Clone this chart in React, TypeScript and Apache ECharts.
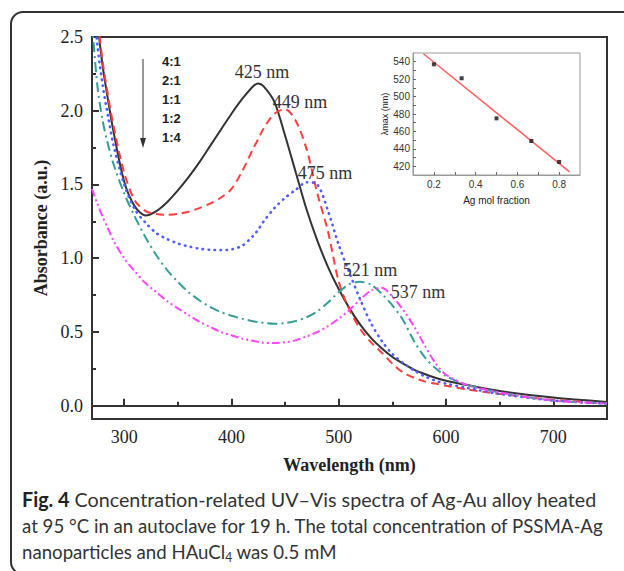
import React, { useEffect, useRef } from "react";
import * as echarts from "echarts";

// ---------- data ----------
const wavelengths = [270, 275, 280, 285, 290, 300, 310, 320, 330, 340, 350, 360, 370, 380, 390, 400, 410, 420, 425, 430, 440, 450, 460, 470, 480, 490, 500, 510, 520, 530, 540, 550, 560, 570, 580, 590, 600, 620, 650, 700, 750];
const abs4to1 = [3.2, 2.62, 2.3, 2.07, 1.86, 1.52, 1.35, 1.29, 1.32, 1.38, 1.46, 1.55, 1.65, 1.76, 1.87, 1.98, 2.08, 2.165, 2.185, 2.165, 2.06, 1.83, 1.58, 1.33, 1.12, 0.94, 0.79, 0.66, 0.55, 0.46, 0.39, 0.33, 0.285, 0.245, 0.215, 0.19, 0.17, 0.14, 0.1, 0.055, 0.025];
const abs2to1 = [3.3, 2.66, 2.33, 2.1, 1.9, 1.58, 1.39, 1.32, 1.3, 1.295, 1.3, 1.315, 1.34, 1.37, 1.41, 1.47, 1.59, 1.74, 1.81, 1.88, 1.98, 2.01, 1.93, 1.74, 1.44, 1.18, 0.84, 0.65, 0.52, 0.43, 0.36, 0.285, 0.225, 0.19, 0.165, 0.15, 0.135, 0.11, 0.08, 0.04, 0.015];
const abs1to1 = [2.9, 2.45, 2.17, 1.96, 1.77, 1.5, 1.33, 1.24, 1.17, 1.13, 1.1, 1.08, 1.065, 1.057, 1.055, 1.06, 1.085, 1.15, 1.195, 1.25, 1.34, 1.41, 1.465, 1.515, 1.5, 1.32, 1.09, 0.9, 0.72, 0.56, 0.44, 0.35, 0.29, 0.24, 0.2, 0.17, 0.15, 0.12, 0.08, 0.035, 0.015];
const abs1to2 = [2.6, 2.17, 1.93, 1.77, 1.64, 1.44, 1.28, 1.14, 1.02, 0.92, 0.84, 0.77, 0.715, 0.67, 0.635, 0.61, 0.59, 0.573, 0.567, 0.562, 0.556, 0.56, 0.575, 0.6, 0.64, 0.7, 0.77, 0.825, 0.84, 0.82, 0.76, 0.68, 0.58, 0.44, 0.33, 0.255, 0.2, 0.14, 0.09, 0.035, 0.015];
const abs1to4 = [1.47, 1.37, 1.28, 1.2, 1.12, 1.0, 0.91, 0.83, 0.77, 0.71, 0.66, 0.615, 0.57, 0.535, 0.5, 0.478, 0.455, 0.44, 0.433, 0.427, 0.425, 0.43, 0.445, 0.47, 0.5, 0.54, 0.59, 0.65, 0.72, 0.78, 0.8, 0.74, 0.65, 0.54, 0.41, 0.29, 0.21, 0.14, 0.09, 0.035, 0.015];

const ratioLabels = ["4:1", "2:1", "1:1", "1:2", "1:4"];
const peakLabels = ["425 nm", "449 nm", "475 nm", "521 nm", "537 nm"];

const xMajorTicks = [300, 400, 500, 600, 700];
const xMinorTicks = [350, 450, 550, 650];
const yMajorTicks = [0, 0.5, 1.0, 1.5, 2.0, 2.5];
const yMinorTicks = [0.25, 0.75, 1.25, 1.75, 2.25];

// inset
const agFraction = [0.2, 0.333, 0.5, 0.667, 0.8];
const lambdaMax = [537, 521, 475, 449, 425];
const insetXLabels = [0.2, 0.4, 0.6, 0.8];
const insetXTicks = [0.2, 0.3, 0.4, 0.5, 0.6, 0.7, 0.8];
const insetYLabels = [420, 440, 460, 480, 500, 520, 540];
const insetYTicks = [420, 430, 440, 450, 460, 470, 480, 490, 500, 510, 520, 530, 540];
const fitRange = [0.15, 0.85];

// caption: [bold part, regular part, subscript, tail]
const captionLines = [
  ["Fig. 4", " Concentration-related UV\u2013Vis spectra of Ag-Au alloy heated", "", ""],
  ["", "at 95 \u00b0C in an autoclave for 19 h. The total concentration of PSSMA-Ag", "", ""],
  ["", "nanoparticles and HAuCl", "4", " was 0.5 mM"],
];
const captionWidths = [576, 582, 0];

function linearFit(xs: number[], ys: number[]) {
  const n = xs.length;
  const mx = xs.reduce((a, b) => a + b, 0) / n;
  const my = ys.reduce((a, b) => a + b, 0) / n;
  let sxy = 0, sxx = 0;
  for (let i = 0; i < n; i++) {
    sxy += (xs[i] - mx) * (ys[i] - my);
    sxx += (xs[i] - mx) * (xs[i] - mx);
  }
  const slope = sxy / sxx;
  return (x: number) => my + slope * (x - mx);
}

const SERIF = "'Liberation Serif', 'Times New Roman', serif";
const SANS = "'Liberation Sans', Arial, sans-serif";
const CAPTION = "Lato, 'Open Sans', sans-serif";
const AX = "#333";
const CAP_SIZE = 20;
const SUB_SIZE = 13;

export default function App() {
  const ref = useRef<HTMLDivElement>(null);
  useEffect(() => {
    if (!ref.current) return;
    const chart = echarts.init(ref.current, null, { renderer: "svg" });
    const fit = linearFit(agFraction, lambdaMax);

    const ctx = document.createElement("canvas").getContext("2d")!;
    const measure = (t: string, font: string) => {
      if (!t) return 0;
      ctx.font = font;
      return ctx.measureText(t).width;
    };

    const mk = (name: string, arr: number[], color: string, type: any, width = 2, cap = "butt") => ({
      name,
      type: "line",
      xAxisIndex: 0,
      yAxisIndex: 0,
      data: wavelengths.map((w, i) => [w, arr[i]]),
      showSymbol: false,
      smooth: 0.3,
      clip: true,
      silent: true,
      lineStyle: { color, width, type, cap },
      z: 3,
    });

    const ratioTexts = ratioLabels.map((t, i) => ({
      type: "text",
      left: 162,
      top: 55 + i * 19,
      style: { text: t, font: `bold 13px ${SANS}`, fill: "#222" },
      z: 10,
    }));

    const peakPos = [
      [262, 72],
      [300, 102],
      [325, 173],
      [370, 270],
      [418, 292],
    ];
    const peakTexts = peakLabels.map((t, i) => ({
      type: "text",
      x: peakPos[i][0],
      y: peakPos[i][1],
      style: {
        text: t,
        font: `18px ${SERIF}`,
        fill: "#333",
        align: "center",
        verticalAlign: "middle",
      },
      z: 10,
    }));

    const regFont = `${CAP_SIZE}px ${CAPTION}`;
    const boldFont = `bold ${CAP_SIZE}px ${CAPTION}`;
    const scales = captionLines.map((l, i) => {
      const w = measure(l[0], boldFont) + measure(l[1], regFont) + measure(l[2], `${SUB_SIZE}px ${CAPTION}`) + measure(l[3], regFont);
      return captionWidths[i] > 0 && w > 0 ? Math.min(1.1, captionWidths[i] / w) : 0;
    });
    const fallback = scales[1] || 1;
    const captionTexts = captionLines.map((l, i) => {
      let text = "";
      if (l[0]) text += `{b|${l[0]}}`;
      text += l[1];
      if (l[2]) text += `{sub|${l[2]}}`;
      text += l[3];
      return {
        type: "text",
        x: 22,
        y: 499 + i * 26,
        scaleX: scales[i] || fallback,
        originX: 0,
        style: {
          text,
          font: regFont,
          fill: "#333",
          verticalAlign: "middle",
          rich: {
            b: { fontWeight: "bold", fontSize: CAP_SIZE, fontFamily: CAPTION, fill: "#222" },
            sub: { fontSize: SUB_SIZE, fontFamily: CAPTION, fill: "#333", padding: [12, 0, 0, 0] },
          },
        },
        z: 10,
      };
    });

    const option: any = {
      animation: false,
      backgroundColor: "#fff",
      grid: [
        { left: 92, top: 37, right: 17, bottom: 152, show: true, borderColor: AX, borderWidth: 2, backgroundColor: "transparent" },
        { left: 413, top: 53, width: 167, height: 122, show: true, borderColor: "#999", borderWidth: 1, backgroundColor: "#fff", z: 5 },
      ],
      xAxis: [
        {
          type: "value", gridIndex: 0, min: 270, max: 750, position: "bottom",
          name: "Wavelength (nm)", nameLocation: "middle", nameGap: 37,
          nameTextStyle: { fontFamily: SERIF, fontWeight: "bold", fontSize: 18, color: "#222" },
          axisLine: { lineStyle: { color: AX, width: 2 } },
          axisTick: { inside: true, length: 7, customValues: xMajorTicks, lineStyle: { color: AX, width: 2 } },
          axisLabel: { customValues: xMajorTicks, fontFamily: SERIF, fontSize: 18, color: "#222", margin: 9 },
          splitLine: { show: false },
        },
        {
          type: "value", gridIndex: 0, min: 270, max: 750, position: "bottom",
          axisLine: { show: false },
          axisTick: { inside: true, length: 4, customValues: xMinorTicks, lineStyle: { color: AX, width: 2 } },
          axisLabel: { show: false },
          splitLine: { show: false },
        },
        {
          type: "value", gridIndex: 1, min: 0.1, max: 0.9, position: "bottom",
          name: "Ag mol fraction", nameLocation: "middle", nameGap: 20,
          nameTextStyle: { fontFamily: SANS, fontSize: 10, color: "#222" },
          axisLine: { lineStyle: { color: "#999", width: 1 } },
          axisTick: { inside: true, length: 3, customValues: insetXTicks, lineStyle: { color: "#666" } },
          axisLabel: { customValues: insetXLabels, fontFamily: SANS, fontSize: 10, color: "#333", margin: 4, formatter: (v: number) => v.toFixed(1) },
          splitLine: { show: false },
          z: 6,
        },
      ],
      yAxis: [
        {
          type: "value", gridIndex: 0, min: -0.09, max: 2.5, position: "left",
          name: "Absorbance (a.u.)", nameLocation: "middle", nameGap: 38,
          nameTextStyle: { fontFamily: SERIF, fontWeight: "bold", fontSize: 18, color: "#222" },
          axisLine: { lineStyle: { color: AX, width: 2 } },
          axisTick: { inside: true, length: 7, customValues: yMajorTicks, lineStyle: { color: AX, width: 2 } },
          axisLabel: { customValues: yMajorTicks, fontFamily: SERIF, fontSize: 18, color: "#222", margin: 9, formatter: (v: number) => v.toFixed(1) },
          splitLine: { show: false },
        },
        {
          type: "value", gridIndex: 0, min: -0.09, max: 2.5, position: "left",
          axisLine: { show: false },
          axisTick: { inside: true, length: 4, customValues: yMinorTicks, lineStyle: { color: AX, width: 2 } },
          axisLabel: { show: false },
          splitLine: { show: false },
        },
        {
          type: "value", gridIndex: 1, min: 410, max: 550, position: "left",
          name: "\u03bbmax (nm)", nameLocation: "middle", nameGap: 20,
          nameTextStyle: { fontFamily: SANS, fontSize: 9, color: "#222" },
          axisLine: { lineStyle: { color: "#999", width: 1 } },
          axisTick: { inside: true, length: 3, customValues: insetYTicks, lineStyle: { color: "#666" } },
          axisLabel: { customValues: insetYLabels, fontFamily: SANS, fontSize: 10, color: "#333", margin: 3 },
          splitLine: { show: false },
          z: 6,
        },
      ],
      series: [
        mk("4:1", abs4to1, "#333333", "solid", 2),
        mk("2:1", abs2to1, "#ff3d3d", [8, 5], 2),
        mk("1:1", abs1to1, "#4f5cff", [0.5, 5.5], 2.6, "round"),
        mk("1:2", abs1to2, "#359e98", [10, 4, 2, 4], 2),
        mk("1:4", abs1to4, "#ff44ff", [8, 3, 2, 3, 2, 3], 2),
        {
          type: "line",
          xAxisIndex: 2,
          yAxisIndex: 2,
          data: fitRange.map((x) => [x, fit(x)]),
          showSymbol: false,
          lineStyle: { color: "#ff6060", width: 1.5 },
          silent: true,
          z: 7,
        },
        {
          type: "scatter",
          xAxisIndex: 2,
          yAxisIndex: 2,
          data: agFraction.map((x, i) => [x, lambdaMax[i]]),
          symbol: "rect",
          symbolSize: 4,
          itemStyle: { color: "#111" },
          silent: true,
          z: 8,
        },
      ],
      graphic: [
        {
          type: "rect",
          shape: { x: 11, y: 12, width: 700, height: 562, r: 12 },
          style: { fill: "none", stroke: "#333", lineWidth: 2 },
          z: 1,
          silent: true,
        },
        {
          type: "line",
          shape: { x1: 143, y1: 59, x2: 143, y2: 140 },
          style: { stroke: "#333", lineWidth: 1 },
          z: 10,
        },
        {
          type: "polygon",
          shape: { points: [[140, 138], [146, 138], [143, 148]] },
          style: { fill: "#333" },
          z: 10,
        },
        ...ratioTexts,
        ...peakTexts,
        ...captionTexts,
      ],
    };
    chart.setOption(option);
    return () => chart.dispose();
  }, []);
  return (
    <div
      ref={ref}
      style={{ position: "fixed", left: 0, top: 0, width: 624, height: 571, background: "#fff" }}
    />
  );
}
